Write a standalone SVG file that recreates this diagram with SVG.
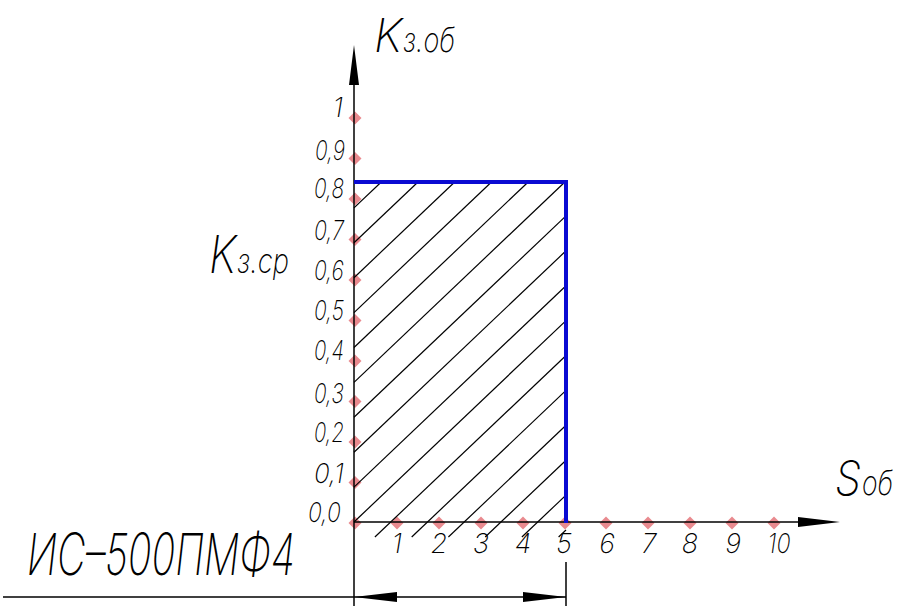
<svg xmlns="http://www.w3.org/2000/svg" width="901" height="606" viewBox="0 0 901 606">
<style>
.ax{stroke:#000;stroke-width:1.5;fill:none}
.h{stroke:#000;stroke-width:1.2;fill:none}
.bl{stroke:#0a0ad2;stroke-width:4;fill:none}
.dm{fill:#e98a8f}
.t{font-family:Inter,"DejaVu Sans","Liberation Sans",sans-serif;font-weight:250;font-style:italic;fill:#000}
.yl{font-size:27px;text-anchor:end}
.xl{font-size:27px;text-anchor:middle}
</style>
<defs>
<path id="d" d="M0,-6.5 L6.5,0 L0,6.5 L-6.5,0 Z"/>
</defs>
<rect width="901" height="606" fill="#fff"/>
<g id="markers" class="dm">
<use href="#d" x="355" y="523"/>
<use href="#d" x="355" y="482.5"/>
<use href="#d" x="355" y="442"/>
<use href="#d" x="355" y="401.5"/>
<use href="#d" x="355" y="361"/>
<use href="#d" x="355" y="320.5"/>
<use href="#d" x="355" y="280"/>
<use href="#d" x="355" y="239.5"/>
<use href="#d" x="355" y="199"/>
<use href="#d" x="355" y="158.5"/>
<use href="#d" x="355" y="118"/>
<use href="#d" x="397" y="523"/>
<use href="#d" x="439" y="523"/>
<use href="#d" x="481" y="523"/>
<use href="#d" x="523" y="523"/>
<use href="#d" x="565" y="523"/>
<use href="#d" x="606" y="523"/>
<use href="#d" x="648" y="523"/>
<use href="#d" x="690" y="523"/>
<use href="#d" x="732" y="523"/>
<use href="#d" x="774" y="523"/>
</g>
<g id="hatch" class="h">
<line x1="354" y1="207.9" x2="381.3" y2="182"/>
<line x1="354" y1="242.8" x2="418" y2="182"/>
<line x1="354" y1="277.7" x2="454.7" y2="182"/>
<line x1="354" y1="312.6" x2="491.5" y2="182"/>
<line x1="354" y1="347.5" x2="528.2" y2="182"/>
<line x1="354" y1="382.4" x2="564.9" y2="182"/>
<line x1="354" y1="417.3" x2="566" y2="215.9"/>
<line x1="354" y1="452.2" x2="566" y2="250.8"/>
<line x1="354" y1="487.1" x2="566" y2="285.7"/>
<line x1="354" y1="522" x2="566" y2="320.6"/>
<line x1="374.9" y1="537" x2="566" y2="355.5"/>
<line x1="411.7" y1="537" x2="566" y2="390.4"/>
<line x1="448.4" y1="537" x2="566" y2="425.3"/>
<line x1="485.2" y1="537" x2="566" y2="460.2"/>
<line x1="521.9" y1="537" x2="566" y2="495.1"/>
<line x1="558.6" y1="537" x2="566" y2="530"/>
</g>
<g id="axes">
<line class="ax" x1="354" y1="60" x2="354" y2="606"/>
<polygon points="354,45 359,85 349,85" fill="#000"/>
<line class="ax" x1="354" y1="522" x2="825" y2="522"/>
<polygon points="840,522 798,517 798,527" fill="#000"/>
</g>
<g id="boundary" class="bl">
<polyline points="354,182 566,182 566,523"/>
</g>
<g id="dimension">
<line class="ax" x1="3" y1="597" x2="566" y2="597"/>
<line class="ax" x1="566" y1="562" x2="566" y2="606"/>
<polygon points="354,597 397,592 397,602" fill="#000"/>
<polygon points="566,597 523,592 523,602" fill="#000"/>
</g>
<g id="ylabels" class="t yl">
<text x="343" y="117">1</text>
<text x="345" y="160" textLength="30" lengthAdjust="spacingAndGlyphs">0,9</text>
<text x="344" y="198" textLength="30" lengthAdjust="spacingAndGlyphs">0,8</text>
<text x="344" y="240" textLength="30" lengthAdjust="spacingAndGlyphs">0,7</text>
<text x="344" y="280" textLength="30" lengthAdjust="spacingAndGlyphs">0,6</text>
<text x="344" y="320" textLength="30" lengthAdjust="spacingAndGlyphs">0,5</text>
<text x="344" y="360" textLength="30" lengthAdjust="spacingAndGlyphs">0,4</text>
<text x="344" y="403" textLength="30" lengthAdjust="spacingAndGlyphs">0,3</text>
<text x="344" y="442" textLength="30" lengthAdjust="spacingAndGlyphs">0,2</text>
<text x="344" y="483" textLength="30" lengthAdjust="spacingAndGlyphs">0,1</text>
<text x="341" y="522" textLength="33" lengthAdjust="spacingAndGlyphs">0,0</text>
</g>
<g id="xlabels" class="t xl">
<text x="397" y="553">1</text>
<text x="439" y="553">2</text>
<text x="481" y="553">3</text>
<text x="523" y="553">4</text>
<text x="564" y="553">5</text>
<text x="607" y="553">6</text>
<text x="649" y="553">7</text>
<text x="690" y="553">8</text>
<text x="733" y="553">9</text>
<text x="779" y="553" textLength="23" lengthAdjust="spacingAndGlyphs">10</text>
</g>
<g id="titles" class="t">
<text x="374" y="52" font-size="46" textLength="28" lengthAdjust="spacingAndGlyphs">K</text>
<text x="403" y="52" font-size="34" textLength="52" lengthAdjust="spacingAndGlyphs">з.об</text>
<text x="209" y="273" font-size="52" textLength="27" lengthAdjust="spacingAndGlyphs">K</text>
<text x="237" y="273" font-size="34" textLength="52" lengthAdjust="spacingAndGlyphs">з.ср</text>
<text x="835" y="495" font-size="48" textLength="26" lengthAdjust="spacingAndGlyphs">S</text>
<text x="862" y="495" font-size="34" textLength="31" lengthAdjust="spacingAndGlyphs">об</text>
<text x="27" y="575" font-size="58" textLength="268" lengthAdjust="spacingAndGlyphs">ИС–500ПМФ4</text>
</g>
</svg>
